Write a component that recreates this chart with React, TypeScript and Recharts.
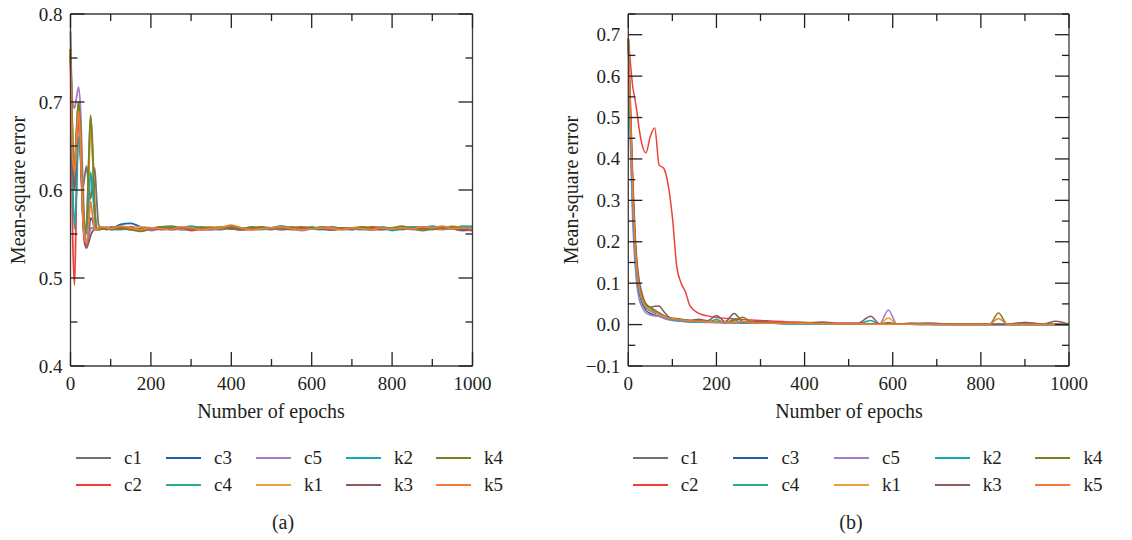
import { LineChart, Line, XAxis, YAxis, Legend } from "recharts";

const FONT = "'Liberation Serif', 'Times New Roman', serif";
const INK = "#231f20";

// series names and colours (shared by both panels)
const names = ["c1", "c2", "c3", "c4", "c5", "k1", "k2", "k3", "k4", "k5"];
const colors = ["#707070", "#ef3f38", "#1f5ea8", "#2bb07f", "#a27bc4", "#e3a33a", "#17a9a9", "#8b5a5a", "#7f7f1f", "#f47a3a"];

const xTicks = [0, 100, 200, 300, 400, 500, 600, 700, 800, 900, 1000];
const yTicksA = [0.4, 0.45, 0.5, 0.55, 0.6, 0.65, 0.7, 0.75, 0.8];
const yTicksB = [-0.1, -0.05, 0, 0.05, 0.1, 0.15, 0.2, 0.25, 0.3, 0.35, 0.4, 0.45, 0.5, 0.55, 0.6, 0.65, 0.7, 0.75];

// ---- panel (a) ----
const epochsA = [0, 5, 10, 15, 20, 25, 30, 35, 40, 45, 50, 55, 60, 65, 70, 80, 90, 100,
  125, 150, 175, 200, 225, 250, 275, 300, 325, 350, 375, 400, 425, 450, 475, 500, 525, 550,
  575, 600, 625, 650, 675, 700, 725, 750, 775, 800, 825, 850, 875, 900, 925, 950, 975, 1000];

const c1A = [0.78, 0.66, 0.62, 0.66, 0.69, 0.64, 0.6, 0.615, 0.627, 0.605, 0.59, 0.61, 0.625, 0.59, 0.56, 0.556, 0.557, 0.556,
  0.556, 0.557, 0.555, 0.556, 0.558, 0.557, 0.555, 0.556, 0.557, 0.556, 0.555, 0.557, 0.556, 0.558, 0.556, 0.555, 0.557, 0.556,
  0.555, 0.556, 0.557, 0.558, 0.556, 0.555, 0.557, 0.556, 0.555, 0.557, 0.556, 0.558, 0.556, 0.555, 0.557, 0.556, 0.554, 0.555];
const c2A = [0.76, 0.56, 0.492, 0.6, 0.69, 0.66, 0.58, 0.545, 0.54, 0.55, 0.556, 0.557, 0.556, 0.555, 0.556, 0.557, 0.556, 0.558,
  0.557, 0.558, 0.556, 0.555, 0.557, 0.558, 0.556, 0.554, 0.556, 0.557, 0.558, 0.559, 0.556, 0.555, 0.556, 0.557, 0.555, 0.556,
  0.558, 0.557, 0.556, 0.555, 0.556, 0.557, 0.556, 0.558, 0.557, 0.555, 0.556, 0.557, 0.558, 0.556, 0.555, 0.557, 0.556, 0.557];
const c3A = [0.76, 0.64, 0.6, 0.65, 0.695, 0.65, 0.58, 0.545, 0.535, 0.55, 0.568, 0.565, 0.556, 0.555, 0.556, 0.557, 0.556, 0.556,
  0.561, 0.562, 0.558, 0.556, 0.557, 0.555, 0.556, 0.557, 0.556, 0.555, 0.557, 0.556, 0.555, 0.556, 0.557, 0.556, 0.558, 0.556,
  0.555, 0.557, 0.556, 0.555, 0.556, 0.557, 0.556, 0.555, 0.557, 0.556, 0.556, 0.557, 0.555, 0.556, 0.558, 0.556, 0.555, 0.556];
const c4A = [0.76, 0.66, 0.63, 0.67, 0.7, 0.66, 0.59, 0.55, 0.56, 0.62, 0.683, 0.64, 0.58, 0.556, 0.555, 0.556, 0.558, 0.555,
  0.555, 0.556, 0.554, 0.557, 0.556, 0.558, 0.556, 0.557, 0.555, 0.556, 0.558, 0.556, 0.557, 0.556, 0.555, 0.557, 0.559, 0.557,
  0.556, 0.558, 0.556, 0.557, 0.555, 0.556, 0.557, 0.556, 0.558, 0.556, 0.555, 0.557, 0.556, 0.558, 0.557, 0.556, 0.559, 0.558];
const c5A = [0.76, 0.7, 0.693, 0.705, 0.717, 0.69, 0.62, 0.56, 0.536, 0.545, 0.556, 0.557, 0.556, 0.555, 0.556, 0.556, 0.557, 0.556,
  0.556, 0.555, 0.557, 0.554, 0.556, 0.557, 0.555, 0.556, 0.557, 0.555, 0.556, 0.557, 0.556, 0.555, 0.557, 0.556, 0.555, 0.556,
  0.554, 0.556, 0.557, 0.555, 0.556, 0.555, 0.557, 0.556, 0.555, 0.556, 0.557, 0.555, 0.556, 0.558, 0.556, 0.557, 0.556, 0.555];
const k1A = [0.76, 0.65, 0.62, 0.66, 0.7, 0.66, 0.59, 0.55, 0.555, 0.61, 0.67, 0.64, 0.58, 0.557, 0.556, 0.556, 0.557, 0.556,
  0.557, 0.556, 0.558, 0.557, 0.556, 0.558, 0.556, 0.557, 0.556, 0.558, 0.557, 0.559, 0.557, 0.556, 0.557, 0.556, 0.558, 0.556,
  0.557, 0.556, 0.558, 0.557, 0.556, 0.557, 0.558, 0.556, 0.557, 0.556, 0.558, 0.557, 0.556, 0.557, 0.556, 0.559, 0.557, 0.558];
const k2A = [0.76, 0.62, 0.556, 0.6, 0.66, 0.64, 0.59, 0.56, 0.55, 0.58, 0.62, 0.6, 0.57, 0.556, 0.555, 0.557, 0.556, 0.557,
  0.558, 0.557, 0.555, 0.556, 0.557, 0.558, 0.557, 0.559, 0.557, 0.556, 0.557, 0.556, 0.557, 0.556, 0.558, 0.557, 0.559, 0.556,
  0.557, 0.556, 0.555, 0.556, 0.557, 0.556, 0.555, 0.556, 0.557, 0.554, 0.556, 0.558, 0.557, 0.559, 0.557, 0.556, 0.558, 0.559];
const k3A = [0.76, 0.63, 0.6, 0.65, 0.69, 0.64, 0.575, 0.54, 0.534, 0.54, 0.548, 0.553, 0.555, 0.556, 0.556, 0.556, 0.555, 0.556,
  0.556, 0.555, 0.556, 0.557, 0.555, 0.556, 0.557, 0.556, 0.555, 0.556, 0.557, 0.556, 0.555, 0.556, 0.557, 0.556, 0.556, 0.555,
  0.556, 0.557, 0.556, 0.555, 0.556, 0.557, 0.556, 0.555, 0.556, 0.557, 0.556, 0.556, 0.557, 0.556, 0.558, 0.556, 0.555, 0.554];
const k4A = [0.76, 0.66, 0.62, 0.665, 0.7, 0.67, 0.6, 0.555, 0.56, 0.63, 0.685, 0.65, 0.585, 0.557, 0.555, 0.556, 0.557, 0.555,
  0.557, 0.555, 0.553, 0.556, 0.558, 0.559, 0.557, 0.556, 0.558, 0.557, 0.556, 0.558, 0.556, 0.557, 0.558, 0.556, 0.557, 0.558,
  0.557, 0.556, 0.558, 0.556, 0.557, 0.556, 0.558, 0.557, 0.556, 0.557, 0.559, 0.556, 0.554, 0.556, 0.557, 0.558, 0.557, 0.556];
const k5A = [0.76, 0.64, 0.62, 0.655, 0.69, 0.65, 0.58, 0.545, 0.54, 0.56, 0.587, 0.57, 0.556, 0.555, 0.557, 0.558, 0.557, 0.556,
  0.559, 0.557, 0.555, 0.557, 0.556, 0.555, 0.558, 0.557, 0.555, 0.556, 0.557, 0.56, 0.557, 0.555, 0.556, 0.557, 0.558, 0.556,
  0.555, 0.556, 0.557, 0.556, 0.555, 0.557, 0.556, 0.555, 0.557, 0.556, 0.557, 0.556, 0.558, 0.557, 0.559, 0.556, 0.557, 0.556];

// ---- panel (b) ----
const epochsB = [0, 5, 10, 15, 20, 25, 30, 40, 50, 60, 70, 80, 90, 100, 110, 120, 130, 140, 160, 180, 200, 220, 240, 260,
  280, 300, 330, 360, 400, 440, 480, 520, 550, 570, 590, 610, 640, 680, 720, 760, 800, 820, 840, 860, 900, 940, 970, 1000];

const c1B = [0.69, 0.48, 0.31, 0.19, 0.12, 0.085, 0.065, 0.042, 0.033, 0.028, 0.025, 0.02, 0.016, 0.014, 0.012, 0.011,
  0.01, 0.009, 0.008, 0.007, 0.007, 0.006, 0.006, 0.005, 0.005, 0.004, 0.004, 0.003, 0.003, 0.002, 0.002, 0.002,
  0.001, 0.001, 0.001, 0.001, 0.001, 0.001, 0, 0, 0, 0, 0, 0, 0, 0, 0, 0];
const c2B = [0.69, 0.63, 0.575, 0.545, 0.51, 0.47, 0.44, 0.415, 0.455, 0.475, 0.385, 0.378, 0.34, 0.26, 0.14, 0.1,
  0.078, 0.045, 0.027, 0.021, 0.017, 0.015, 0.014, 0.012, 0.011, 0.01, 0.008, 0.007, 0.005, 0.004, 0.003, 0.003,
  0.002, 0.002, 0.002, 0.002, 0.001, 0.001, 0.001, 0.001, 0.001, 0.001, 0.001, 0.001, 0.001, 0.001, 0.001, 0];
const c3B = [0.69, 0.45, 0.28, 0.17, 0.105, 0.075, 0.055, 0.035, 0.027, 0.023, 0.02, 0.016, 0.013, 0.011, 0.01, 0.009,
  0.008, 0.007, 0.006, 0.006, 0.005, 0.005, 0.004, 0.004, 0.003, 0.003, 0.003, 0.002, 0.002, 0.002, 0.001, 0.001,
  0.001, 0.001, 0.001, 0.001, 0.001, 0, 0, 0, 0, 0, 0, 0, 0, 0, 0, 0];
const c4B = [0.69, 0.5, 0.33, 0.2, 0.13, 0.09, 0.07, 0.048, 0.04, 0.034, 0.028, 0.022, 0.017, 0.015, 0.015, 0.013,
  0.011, 0.01, 0.008, 0.007, 0.008, 0.006, 0.007, 0.006, 0.005, 0.005, 0.004, 0.004, 0.004, 0.003, 0.002, 0.002,
  0.002, 0.001, 0.002, 0.001, 0.003, 0.001, 0.001, 0, 0, 0, 0, 0, 0.001, 0, 0, 0];
const c5B = [0.69, 0.42, 0.25, 0.15, 0.09, 0.06, 0.045, 0.028, 0.023, 0.021, 0.02, 0.016, 0.012, 0.01, 0.009, 0.008,
  0.007, 0.007, 0.006, 0.005, 0.005, 0.004, 0.004, 0.004, 0.003, 0.003, 0.003, 0.002, 0.002, 0.002, 0.001, 0.001,
  0.001, 0.001, 0.035, 0.001, 0.001, 0.001, 0, 0, 0, 0, 0, 0, 0.005, 0.001, 0, 0];
const k1B = [0.69, 0.52, 0.34, 0.21, 0.135, 0.095, 0.07, 0.045, 0.035, 0.03, 0.026, 0.02, 0.016, 0.014, 0.012, 0.011,
  0.01, 0.009, 0.008, 0.007, 0.007, 0.006, 0.008, 0.006, 0.005, 0.004, 0.004, 0.005, 0.003, 0.003, 0.002, 0.002,
  0.002, 0.001, 0.016, 0.001, 0.001, 0.001, 0.001, 0, 0, 0, 0, 0, 0, 0, 0, 0];
const k2B = [0.69, 0.47, 0.3, 0.18, 0.115, 0.08, 0.06, 0.04, 0.035, 0.032, 0.028, 0.02, 0.015, 0.012, 0.01, 0.009,
  0.008, 0.007, 0.006, 0.006, 0.012, 0.004, 0.013, 0.003, 0.003, 0.003, 0.003, 0.002, 0.002, 0.002, 0.001, 0.001,
  0.01, 0.001, 0.001, 0.001, 0.001, 0, 0, 0, 0, 0, 0, 0, 0, 0, 0, 0];
const k3B = [0.69, 0.53, 0.36, 0.23, 0.15, 0.105, 0.08, 0.05, 0.042, 0.044, 0.045, 0.032, 0.02, 0.015, 0.013, 0.012,
  0.011, 0.01, 0.013, 0.009, 0.022, 0.007, 0.027, 0.007, 0.006, 0.008, 0.005, 0.004, 0.004, 0.006, 0.003, 0.003,
  0.02, 0.002, 0.002, 0.002, 0.002, 0.004, 0.002, 0.001, 0.001, 0.001, 0.001, 0.001, 0.005, 0.001, 0.008, 0.001];
const k4B = [0.69, 0.51, 0.34, 0.21, 0.135, 0.095, 0.072, 0.05, 0.042, 0.035, 0.028, 0.022, 0.017, 0.015, 0.014, 0.012,
  0.011, 0.01, 0.009, 0.008, 0.007, 0.006, 0.01, 0.018, 0.006, 0.005, 0.004, 0.004, 0.005, 0.003, 0.002, 0.002,
  0.002, 0.001, 0.005, 0.001, 0.003, 0.001, 0.001, 0, 0, 0.001, 0.028, 0.001, 0, 0, 0, 0];
const k5B = [0.69, 0.5, 0.32, 0.2, 0.125, 0.088, 0.065, 0.042, 0.034, 0.03, 0.025, 0.02, 0.016, 0.014, 0.012, 0.011,
  0.01, 0.009, 0.008, 0.007, 0.006, 0.006, 0.005, 0.008, 0.004, 0.004, 0.003, 0.003, 0.003, 0.002, 0.002, 0.002,
  0.001, 0.001, 0.001, 0.001, 0.001, 0.001, 0, 0, 0, 0.001, 0.015, 0.001, 0, 0, 0, 0];

function buildRows(epochs: number[], series: number[][]) {
  return epochs.map((epoch, i) => {
    const row: Record<string, number> = { epoch };
    names.forEach((n, j) => {
      row[n] = series[j][i];
    });
    return row;
  });
}

const rowsA = buildRows(epochsA, [c1A, c2A, c3A, c4A, c5A, k1A, k2A, k3A, k4A, k5A]);
const rowsB = buildRows(epochsB, [c1B, c2B, c3B, c4B, c5B, k1B, k2B, k3B, k4B, k5B]);

const isMajorY = (v: number) => Math.abs(v * 10 - Math.round(v * 10)) < 1e-6;
const fmtY = (v: number) => (v < 0 ? "\u2212" + Math.abs(v).toFixed(1) : v.toFixed(1));
const textStyle = { fontFamily: FONT, fontSize: 19, fill: INK };

// inward tick marks, long on labelled values
const leftTick = (p: any) => {
  const v = p.payload.value;
  const major = isMajorY(v);
  return (
    <g>
      <line x1={p.x} y1={p.y} x2={p.x + (major ? 14 : 7)} y2={p.y} stroke={INK} strokeWidth={1.3} />
      {major && (
        <text x={p.x - 8} y={p.y} textAnchor="end" dominantBaseline="central" style={textStyle}>
          {fmtY(v)}
        </text>
      )}
    </g>
  );
};
const rightTick = (p: any) => {
  const major = isMajorY(p.payload.value);
  return <line x1={p.x} y1={p.y} x2={p.x - (major ? 14 : 7)} y2={p.y} stroke={INK} strokeWidth={1.3} />;
};
const bottomTick = (p: any) => {
  const v = p.payload.value;
  const major = v % 200 === 0;
  return (
    <g>
      <line x1={p.x} y1={p.y} x2={p.x} y2={p.y - (major ? 14 : 7)} stroke={INK} strokeWidth={1.3} />
      {major && (
        <text x={p.x} y={p.y + 17} textAnchor="middle" dominantBaseline="central" style={textStyle}>
          {v}
        </text>
      )}
    </g>
  );
};
const topTick = (p: any) => {
  const major = p.payload.value % 200 === 0;
  return <line x1={p.x} y1={p.y} x2={p.x} y2={p.y + (major ? 14 : 7)} stroke={INK} strokeWidth={1.3} />;
};

const legendContent = (colWidth: number) => (props: any) => (
  <div
    style={{
      display: "grid",
      gridTemplateRows: "repeat(2, 27px)",
      gridAutoFlow: "column",
      gridAutoColumns: colWidth,
      fontFamily: FONT,
      fontSize: 19,
      color: INK,
    }}
  >
    {(props.payload || []).map((entry: any) => (
      <div key={entry.value} style={{ display: "flex", alignItems: "center" }}>
        <span style={{ width: 35, borderTop: `2px solid ${entry.color}`, marginRight: 13 }} />
        <span>{entry.value}</span>
      </div>
    ))}
  </div>
);

type PanelProps = {
  rows: Record<string, number>[];
  yDomain: [number, number];
  yTicks: number[];
  width: number;
  margin: { top: number; right: number; bottom: number; left: number };
  legendLeft: number;
  legendCol: number;
  lineWidth: number;
};

function Panel({ rows, yDomain, yTicks, width, margin, legendLeft, legendCol, lineWidth }: PanelProps) {
  const axisLine = { stroke: "#3a3a3a", strokeWidth: 1.3 };
  return (
    <LineChart width={width} height={540} data={rows} margin={margin}>
      <XAxis dataKey="epoch" type="number" domain={[0, 1000]} ticks={xTicks} height={1}
        tickSize={0} tickMargin={0} tickLine={false} axisLine={axisLine} tick={bottomTick} interval={0} />
      <XAxis xAxisId="top" dataKey="epoch" orientation="top" type="number" domain={[0, 1000]} ticks={xTicks}
        height={1} tickSize={0} tickMargin={0} tickLine={false} axisLine={axisLine} tick={topTick} interval={0} />
      <YAxis type="number" domain={yDomain} ticks={yTicks} width={1} tickSize={0} tickMargin={0}
        tickLine={false} axisLine={axisLine} tick={leftTick} interval={0} allowDataOverflow />
      <YAxis yAxisId="right" orientation="right" type="number" domain={yDomain} ticks={yTicks} width={1}
        tickSize={0} tickMargin={0} tickLine={false} axisLine={axisLine} tick={rightTick} interval={0} allowDataOverflow />
      <Legend verticalAlign="middle" align="center" layout="horizontal"
        wrapperStyle={{ left: legendLeft, top: 444, width: legendCol * 5 + 10 }}
        content={legendContent(legendCol)} />
      {names.map((n, j) => (
        <Line key={n} dataKey={n} name={n} type="monotone" stroke={colors[j]} strokeWidth={lineWidth}
          dot={false} activeDot={false} isAnimationActive={false} />
      ))}
    </LineChart>
  );
}

const labelStyle: React.CSSProperties = {
  position: "absolute",
  fontFamily: FONT,
  fontSize: 20,
  color: INK,
  whiteSpace: "nowrap",
  transform: "translate(-50%, -50%)",
};

export default function App() {
  return (
    <div style={{ position: "absolute", left: 0, top: 0, width: 1132, height: 540, background: "#fff", overflow: "hidden" }}>
      <div style={{ position: "absolute", left: 0, top: 0 }}>
        <Panel rows={rowsA} yDomain={[0.4, 0.8]} yTicks={yTicksA} width={540}
          margin={{ top: 13, right: 66.5, bottom: 173, left: 69.5 }} legendLeft={76} legendCol={90} lineWidth={1.8} />
      </div>
      <div style={{ position: "absolute", left: 560, top: 0 }}>
        <Panel rows={rowsB} yDomain={[-0.1, 0.75]} yTicks={yTicksB} width={570}
          margin={{ top: 13, right: 60, bottom: 173, left: 67.3 }} legendLeft={72.7} legendCol={100.7} lineWidth={1.5} />
      </div>

      <div style={{ ...labelStyle, left: 18, top: 190, transform: "translate(-50%, -50%) rotate(-90deg)" }}>Mean-square error</div>
      <div style={{ ...labelStyle, left: 571, top: 190, transform: "translate(-50%, -50%) rotate(-90deg)" }}>Mean-square error</div>
      <div style={{ ...labelStyle, left: 271, top: 411 }}>Number of epochs</div>
      <div style={{ ...labelStyle, left: 849, top: 411 }}>Number of epochs</div>
      <div style={{ ...labelStyle, left: 283, top: 522 }}>(a)</div>
      <div style={{ ...labelStyle, left: 851, top: 522 }}>(b)</div>
    </div>
  );
}
